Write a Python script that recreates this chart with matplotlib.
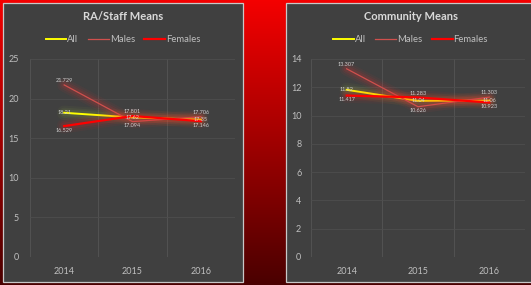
import numpy as np
import matplotlib
matplotlib.use('Agg')
import matplotlib.pyplot as plt
from matplotlib.patches import Rectangle
from matplotlib.colors import LinearSegmentedColormap

plt.rcParams['font.family'] = ['Lato', 'DejaVu Sans']

years = ['2014', '2015', '2016']
series_names = ['All', 'Males', 'Females']

# RA/Staff means
staff_all = [18.21, 17.62, 17.35]
staff_males = [21.729, 17.094, 17.706]
staff_females = [16.529, 17.801, 17.146]

# Community means
comm_all = [11.82, 11.04, 11.06]
comm_males = [13.307, 10.626, 11.303]
comm_females = [11.417, 11.283, 10.923]

line_colors = ['#ffff00', '#d0504d', '#ff0000']
glow_colors = ['#9fbf3f', '#ff3030', '#ff2020']
line_widths = [1.4, 0.9, 1.6]

W, H = 531, 285
fig = plt.figure(figsize=(W / 100, H / 100), dpi=100)

# red vertical gradient background
bg = fig.add_axes([0, 0, 1, 1])
cmap = LinearSegmentedColormap.from_list('bg', ['#f40000', '#a00000', '#4a0000'])
bg.imshow(np.linspace(0, 1, 256).reshape(-1, 1), aspect='auto', cmap=cmap,
          extent=[0, 1, 0, 1])
bg.set_axis_off()


def px(x0, y0, x1, y1):
    # pixel box (top-left origin) -> figure fraction rect
    return [x0 / W, 1 - y1 / H, (x1 - x0) / W, (y1 - y0) / H]


def panel(box, plot_box, title, data, ymax, ystep, labx):
    r = px(*box)
    fig.patches.append(Rectangle((r[0], r[1]), r[2], r[3], transform=fig.transFigure,
                                 facecolor='#404040', edgecolor='#c8c8c8', lw=0.9, zorder=1))
    ax = fig.add_axes(px(*plot_box))
    ax.set_facecolor('none')
    ax.set_zorder(2)
    x = np.arange(len(years))
    for vals, c, g, lw, name in zip(data, line_colors, glow_colors, line_widths, series_names):
        for k, a in [(9, 0.05), (6, 0.07), (3.5, 0.1)]:
            ax.plot(x, vals, color=g, lw=lw + k, alpha=a, solid_capstyle='round')
        ax.plot(x, vals, color=c, lw=lw, label=name)
    # data labels, nudged apart where values crowd together
    for xi in x:
        col = sorted([d[xi] for d in data], reverse=True)
        for rank, v in enumerate(col):
            ax.annotate(f'{v:g}', (xi, v), xytext=(0, (1 - rank) * 3), textcoords='offset points',
                        fontsize=4, color='#d0d0d0', ha='center', va='center', zorder=5)
    ax.set_xlim(-0.5, 2.5)
    ax.set_ylim(0, ymax)
    ax.set_yticks(np.arange(0, ymax + 0.1, ystep))
    ax.set_xticks(x)
    ax.set_xticklabels(years)
    ax.set_xticks([-0.5, 0.5, 1.5, 2.5], minor=True)
    ax.grid(True, which='minor', axis='x', color='#555555', lw=0.6)
    ax.grid(True, which='major', axis='y', color='#4e4e4e', lw=0.6)
    ax.tick_params(which='both', length=0, colors='#bfbfbf', labelsize=6.5)
    ax.tick_params(axis='x', pad=7)
    ax.tick_params(axis='y', pad=labx)
    for s in ax.spines.values():
        s.set_visible(False)
    ax.set_axisbelow(True)
    cx = (box[0] + box[2]) / 2 / W
    fig.text(cx, 1 - 17 / H, title, ha='center', va='center', fontsize=8,
             fontweight='bold', color='#d9d9d9', zorder=5)
    handles = [plt.Line2D([], [], color=c, lw=lw) for c, lw in zip(line_colors, line_widths)]
    fig.legend(handles, series_names, loc='center', bbox_to_anchor=(cx, 1 - 40 / H),
               ncol=3, frameon=False, fontsize=6.8, labelcolor='#bfbfbf',
               handlelength=2.2, handletextpad=0.1, columnspacing=1.0)
    return ax


panel((3, 3, 243, 282), (30, 59, 235, 257), 'RA/Staff Means',
      [staff_all, staff_males, staff_females], 25, 5, 8)
panel((286, 3, 535, 282), (311, 59, 525, 257), 'Community Means',
      [comm_all, comm_males, comm_females], 14, 2, 7)

fig.savefig('out.png', dpi=100)
